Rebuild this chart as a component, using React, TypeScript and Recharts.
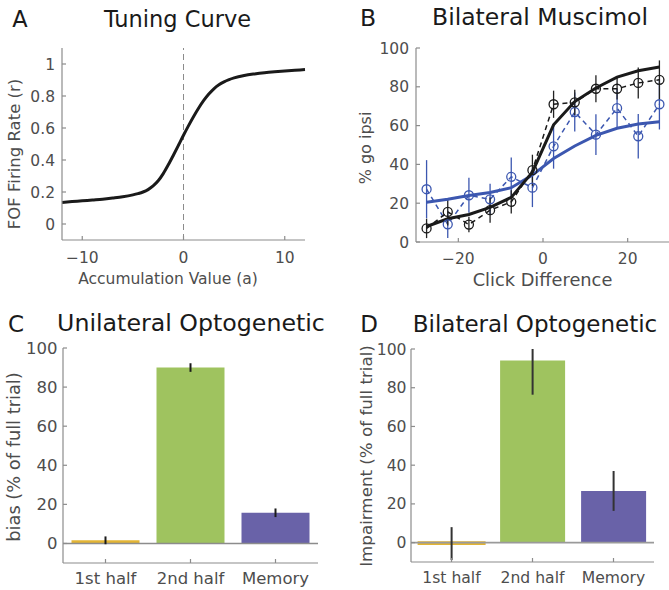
import React from 'react';
import {
  LineChart,
  Line,
  ComposedChart,
  BarChart,
  Bar,
  Cell,
  XAxis,
  YAxis,
  ReferenceLine,
  ErrorBar,
} from 'recharts';

// Panel A: tuning curve
const tuningX = [
  -12, -11, -10, -9, -8, -7, -6, -5, -4.5, -4, -3.5, -3, -2.5, -2, -1.5, -1, -0.5, 0,
  0.5, 1, 1.5, 2, 2.5, 3, 3.5, 4, 4.5, 5, 6, 7, 8, 9, 10, 11, 12,
];
const tuningRate = [
  0.135, 0.14, 0.145, 0.15, 0.155, 0.162, 0.17, 0.182, 0.19, 0.2, 0.215, 0.238, 0.27, 0.315,
  0.37, 0.43, 0.492, 0.555, 0.615, 0.672, 0.725, 0.772, 0.812, 0.845, 0.87, 0.888, 0.902,
  0.913, 0.928, 0.938, 0.946, 0.952, 0.957, 0.961, 0.965,
];
const tuningYTicks = [0, 0.2, 0.4, 0.6, 0.8, 1];
const tuningXTicks = [-10, 0, 10];

// Panel B: bilateral muscimol
const clickDiff = [-27.5, -22.5, -17.5, -12.5, -7.5, -2.5, 2.5, 7.5, 12.5, 17.5, 22.5, 27.5];
const controlPct = [7, 15.5, 9, 16.4, 20.7, 37, 71, 72, 79, 79, 82, 83.6];
const controlErr = [5, 7, 4, 6.5, 6, 8, 7, 6.5, 7, 5.5, 8, 10];
const controlFit = [8, 12, 14.2, 17.8, 23, 36, 60.4, 72.4, 79.4, 85, 88.3, 90.2];
const muscimolPct = [27.2, 9.1, 24.1, 22, 33.6, 28, 49.3, 67, 55.3, 69, 54.5, 71];
const muscimolErr = [15, 7, 9, 8, 10, 10, 11.5, 10, 10.5, 10, 11.5, 13];
const muscimolFit = [20.5, 22, 24, 25.5, 28, 34.5, 43, 49.5, 55, 58.6, 60.8, 62];
const pctTicks = [0, 20, 40, 60, 80, 100];
const clickTicks = [-20, 0, 20];

// Panels C and D: optogenetic epochs
const epochs = ['1st half', '2nd half', 'Memory'];
const uniBias = [1.6, 90, 15.7];
const uniErr = [2, 2.2, 2.2];
const biImpair = [-0.4, 94, 26.7];
const biErrLow = [8.6, 17.6, 10.3];
const biErrHigh = [8.4, 6, 10.3];
const barColors = ['#e3b534', '#9fc35f', '#6962a8'];

const FONT = "'DejaVu Sans', sans-serif";
const AXIS = '#8c8c8c';
const TICK_TEXT = '#4d4d4d';
const BLUE = '#3c57b0';
const BLACK = '#1a1a1a';

const fmtNum = (v: number) => (v < 0 ? '\u2212' + Math.abs(v) : String(v));

const tuningData = tuningX.map((x, i) => ({ x, r: tuningRate[i] }));
const muscimolData = clickDiff.map((x, i) => ({
  x,
  ctl: controlPct[i],
  ctlErr: controlErr[i],
  ctlFit: controlFit[i],
  mus: muscimolPct[i],
  musErr: muscimolErr[i],
  musFit: muscimolFit[i],
}));
const uniData = epochs.map((name, i) => ({ name, v: uniBias[i], err: uniErr[i] }));
const biData = epochs.map((name, i) => ({ name, v: biImpair[i], err: [biErrLow[i], biErrHigh[i]] }));

type TxtProps = { x: number; y: number; size: number; color?: string; rotate?: boolean; children: React.ReactNode };
const Txt = ({ x, y, size, color = TICK_TEXT, rotate, children }: TxtProps) => (
  <div
    style={{
      position: 'absolute',
      left: x,
      top: y,
      transform: `translate(-50%, -50%)${rotate ? ' rotate(-90deg)' : ''}`,
      fontSize: size,
      lineHeight: 1,
      whiteSpace: 'nowrap',
      fontFamily: FONT,
      color,
    }}
  >
    {children}
  </div>
);

const App = () => {
  const axisLine = { stroke: AXIS, strokeWidth: 1.2 };
  const tickLine = { stroke: AXIS, strokeWidth: 1.2 };

  return (
    <div style={{ position: 'absolute', left: 0, top: 0, width: 669, height: 590, background: '#fff', overflow: 'hidden' }}>
      {/* A */}
      <div style={{ position: 'absolute', left: 0, top: 0 }}>
        <LineChart width={335} height={295} data={tuningData} margin={{ top: 48, right: 30, bottom: 25, left: 12 }}>
          <XAxis
            dataKey="x"
            type="number"
            domain={[-12, 12]}
            ticks={tuningXTicks}
            tickFormatter={fmtNum}
            height={30}
            axisLine={axisLine}
            tickLine={tickLine}
            tickSize={-4}
            tickMargin={16}
            tick={{ fill: TICK_TEXT, fontSize: 15.5, fontFamily: FONT }}
          />
          <YAxis
            type="number"
            domain={[-0.1, 1.1]}
            ticks={tuningYTicks}
            width={50}
            axisLine={axisLine}
            tickLine={tickLine}
            tickSize={-4}
            tickMargin={11}
            tick={{ fill: TICK_TEXT, fontSize: 15.5, fontFamily: FONT }}
          />
          <ReferenceLine x={0} stroke="#8c8c8c" strokeDasharray="6 4" strokeWidth={1} />
          <Line type="monotone" dataKey="r" stroke={BLACK} strokeWidth={3} dot={false} isAnimationActive={false} />
        </LineChart>
      </div>

      {/* B */}
      <div style={{ position: 'absolute', left: 335, top: 0 }}>
        <ComposedChart width={335} height={295} data={muscimolData} margin={{ top: 48, right: 0, bottom: 23, left: 31 }}>
          <XAxis
            dataKey="x"
            type="number"
            domain={[-30, 30]}
            ticks={clickTicks}
            tickFormatter={fmtNum}
            height={30}
            axisLine={axisLine}
            tickLine={tickLine}
            tickSize={-4}
            tickMargin={14.5}
            tick={{ fill: TICK_TEXT, fontSize: 15.5, fontFamily: FONT }}
          />
          <YAxis
            type="number"
            domain={[0, 100]}
            ticks={pctTicks}
            width={50}
            axisLine={axisLine}
            tickLine={tickLine}
            tickSize={-4}
            tickMargin={11}
            tick={{ fill: TICK_TEXT, fontSize: 15.5, fontFamily: FONT }}
          />
          <Line
            type="linear"
            dataKey="mus"
            stroke={BLUE}
            strokeWidth={1.5}
            strokeDasharray="5 4"
            dot={{ r: 4.5, fill: 'none', stroke: BLUE, strokeWidth: 1.3, strokeDasharray: 'none' }}
            isAnimationActive={false}
          >
            <ErrorBar dataKey="musErr" width={0} stroke={BLUE} strokeWidth={1.3} direction="y" />
          </Line>
          <Line
            type="linear"
            dataKey="ctl"
            stroke={BLACK}
            strokeWidth={1.5}
            strokeDasharray="5 4"
            dot={{ r: 4.5, fill: 'none', stroke: BLACK, strokeWidth: 1.3, strokeDasharray: 'none' }}
            isAnimationActive={false}
          >
            <ErrorBar dataKey="ctlErr" width={0} stroke="#222" strokeWidth={1.3} direction="y" />
          </Line>
          <Line type="linear" dataKey="musFit" stroke={BLUE} strokeWidth={3} dot={false} isAnimationActive={false} />
          <Line type="linear" dataKey="ctlFit" stroke={BLACK} strokeWidth={3} dot={false} isAnimationActive={false} />
        </ComposedChart>
      </div>

      {/* C */}
      <div style={{ position: 'absolute', left: 0, top: 295 }}>
        <BarChart width={335} height={295} data={uniData} margin={{ top: 53, right: 17, bottom: 7, left: 13 }} barCategoryGap="10%">
          <XAxis
            dataKey="name"
            height={20}
            axisLine={axisLine}
            tickLine={tickLine}
            tickSize={-4}
            tickMargin={13.5}
            tick={{ fill: TICK_TEXT, fontSize: 16.5, fontFamily: FONT }}
          />
          <YAxis
            type="number"
            domain={[-10, 100]}
            ticks={pctTicks}
            width={50}
            axisLine={axisLine}
            tickLine={tickLine}
            tickSize={-4}
            tickMargin={9.5}
            tick={{ fill: TICK_TEXT, fontSize: 16.5, fontFamily: FONT }}
          />
          <ReferenceLine y={0} stroke="#8c8c8c" strokeWidth={1.5} />
          <Bar dataKey="v" isAnimationActive={false}>
            {uniData.map((d, i) => (
              <Cell key={d.name} fill={barColors[i]} />
            ))}
            <ErrorBar dataKey="err" width={0} stroke="#1a1a1a" strokeWidth={2} direction="y" />
          </Bar>
        </BarChart>
      </div>

      {/* D */}
      <div style={{ position: 'absolute', left: 335, top: 295 }}>
        <BarChart width={334} height={295} data={biData} margin={{ top: 54, right: 15, bottom: 8, left: 26 }} barCategoryGap="10%">
          <XAxis
            dataKey="name"
            height={20}
            axisLine={axisLine}
            tickLine={tickLine}
            tickSize={-4}
            tickMargin={14}
            tick={{ fill: TICK_TEXT, fontSize: 15.6, fontFamily: FONT }}
          />
          <YAxis
            type="number"
            domain={[-10, 100]}
            ticks={pctTicks}
            width={50}
            axisLine={axisLine}
            tickLine={tickLine}
            tickSize={-4}
            tickMargin={8.5}
            tick={{ fill: TICK_TEXT, fontSize: 15.6, fontFamily: FONT }}
          />
          <ReferenceLine y={0} stroke="#9a9a9a" strokeWidth={1.6} />
          <Bar dataKey="v" isAnimationActive={false}>
            {biData.map((d, i) => (
              <Cell key={d.name} fill={barColors[i]} stroke={i === 0 ? barColors[i] : 'none'} strokeWidth={i === 0 ? 3 : 0} />
            ))}
            <ErrorBar dataKey="err" width={0} stroke="#333" strokeWidth={2} direction="y" />
          </Bar>
        </BarChart>
      </div>

      {/* titles and axis labels */}
      <Txt x={20} y={19} size={22.5} color={BLACK}>A</Txt>
      <Txt x={177.5} y={19} size={22.5} color={BLACK}>Tuning Curve</Txt>
      <Txt x={168} y={280} size={15.5}>Accumulation Value (a)</Txt>
      <Txt x={15} y={154} size={16.5} rotate>FOF Firing Rate (r)</Txt>

      <Txt x={368} y={19} size={23.5} color={BLACK}>B</Txt>
      <Txt x={540} y={18} size={23.5} color={BLACK}>Bilateral Muscimol</Txt>
      <Txt x={542.5} y={280} size={17.8}>Click Difference</Txt>
      <Txt x={366} y={148} size={16} rotate>% go ipsi</Txt>

      <Txt x={16} y={324} size={23} color={BLACK}>C</Txt>
      <Txt x={191} y={324} size={23.7} color={BLACK}>Unilateral Optogenetic</Txt>
      <Txt x={14} y={457} size={17.8} rotate>bias (% of full trial)</Txt>

      <Txt x={369} y={324} size={23} color={BLACK}>D</Txt>
      <Txt x={535} y={324} size={23} color={BLACK}>Bilateral Optogenetic</Txt>
      <Txt x={366} y={456} size={16.7} rotate>Impairment (% of full trial)</Txt>
    </div>
  );
};

export default App;
